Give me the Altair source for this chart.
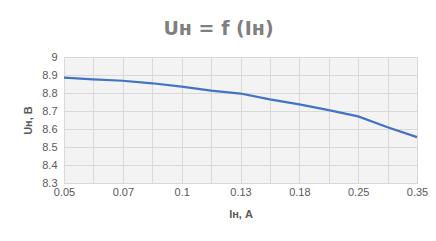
import altair as alt
import pandas as pd

# category positions (13 points, every second labelled)
x_labels = ["0.05", "", "0.07", "", "0.1", "", "0.13", "", "0.18", "", "0.25", "", "0.35"]
u_values = [8.885, 8.876, 8.868, 8.854, 8.835, 8.813, 8.797, 8.765, 8.737, 8.705, 8.670, 8.610, 8.555]
y_ticks = [8.3, 8.4, 8.5, 8.6, 8.7, 8.8, 8.9, 9.0]

df = pd.DataFrame({"i": list(range(len(x_labels))), "u": u_values})
label_arr = "[" + ",".join("'" + s + "'" for s in x_labels) + "]"

font = "Liberation Sans"
grid = "#d9d9d9"
txt = "#595959"

chart = alt.Chart(df).mark_line(color="#4472c4", strokeWidth=2.2).encode(
    x=alt.X("i:Q",
            scale=alt.Scale(domain=[0, len(x_labels) - 1], nice=False, zero=False),
            axis=alt.Axis(values=list(range(len(x_labels))),
                          labelExpr=label_arr + "[datum.value]",
                          title="Iн, А", titleFontWeight="bold", titleFontSize=11,
                          titleColor=txt, titlePadding=11,
                          labelColor=txt, labelFontSize=11, labelPadding=3,
                          labelFlush=False, labelOverlap=False,
                          grid=True, gridColor=grid, ticks=False, domain=False)),
    y=alt.Y("u:Q",
            scale=alt.Scale(domain=[8.3, 9.0], nice=False, zero=False),
            axis=alt.Axis(values=y_ticks, format="~g",
                          title="Uн, В", titleFontWeight="bold", titleFontSize=11,
                          titleColor=txt, titlePadding=8,
                          labelColor=txt, labelFontSize=11, labelPadding=7,
                          grid=True, gridColor=grid, ticks=False, domain=False)),
).properties(
    width=353, height=126,
    autosize=alt.AutoSizeParams(type="none"),
    padding={"left": 64, "top": 57, "right": 19, "bottom": 58},
    title=alt.TitleParams("Uн = f (Iн)", fontSize=19, fontWeight="bold", color="#7f7f7f",
                          font="DejaVu Sans", anchor="middle", dx=-22, offset=12),
).configure(
    font=font, background="white"
).configure_view(
    fill="#f3f3f3", stroke=grid, strokeWidth=1
)

chart.save("out.html", embed_options={"renderer": "svg", "actions": False})
